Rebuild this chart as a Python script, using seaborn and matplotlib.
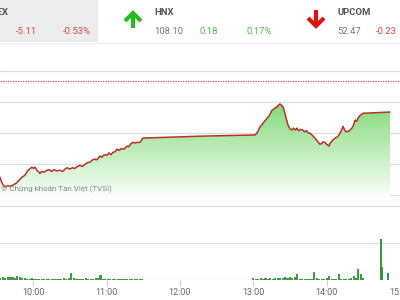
import numpy as np
import matplotlib
matplotlib.use("Agg")
import matplotlib.pyplot as plt
import seaborn as sns
from matplotlib.colors import LinearSegmentedColormap
from matplotlib.lines import Line2D
from matplotlib.patches import Rectangle

# ---------------- data ----------------
# time in minutes after 09:00, index value
price_t = [32.8, 34.5, 36.8, 39, 41, 43.4, 46, 49, 51, 53.2, 55, 57, 58.9, 60.2, 61.4, 63,
           65.5, 67, 69, 71.2, 73, 75, 77, 79, 81.8, 84, 86, 87.6, 90, 92, 94, 96, 98.2,
           100, 102, 104, 106.4, 108, 110, 112, 114.6, 116, 118, 120, 122, 123.5, 125.2,
           127, 128.5, 130, 132, 134, 136.7, 138, 140, 141.6, 143, 145, 147.3, 149.8,
           196.4, 241.4, 243, 245.5, 248, 251.2, 253, 255.3, 257, 258, 259.4, 260.5,
           261.8, 263, 264.3, 265.9, 267, 268.4, 270, 271.6, 273, 274.5, 275.7, 277, 279,
           280.6, 282, 283.5, 285, 286.3, 288, 290.4, 292, 294.5, 296, 297, 298.6, 300,
           301.9, 303, 305.2, 307, 309, 310.9, 312, 313.4, 314.5, 315.8, 318, 320.7, 322,
           323.2, 324.5, 325.6, 327, 329.7, 351.8]
price_v = [947.9, 946.9, 946.3, 946.5, 946.4, 946.6, 946.9, 947.5, 947.9, 948.2, 948.8,
           949.2, 949.5, 949.3, 949.5, 949.0, 948.5, 948.8, 948.7, 949.0, 949.1, 948.8,
           949.1, 948.9, 949.0, 948.8, 949.2, 949.4, 949.2, 949.4, 949.3, 949.6, 949.8,
           949.6, 949.9, 950.2, 950.3, 950.6, 950.8, 950.7, 951.3, 951.1, 951.5, 951.4,
           951.8, 951.5, 951.9, 952.0, 952.4, 952.2, 952.5, 952.4, 952.9, 952.8, 953.3,
           953.5, 953.4, 953.5, 953.5, 954.2, 954.5, 954.7, 955.0, 956.0, 956.6, 957.4,
           957.8, 958.7, 958.9, 959.1, 959.2, 959.5, 959.7, 959.5, 959.2, 958.2, 957.3,
           956.3, 955.7, 955.5, 955.8, 955.5, 955.8, 955.4, 955.6, 955.5, 955.2, 955.4,
           955.0, 955.0, 954.7, 954.2, 953.8, 953.2, 953.3, 953.6, 953.5, 953.2, 952.9,
           953.4, 953.9, 954.2, 954.4, 955.0, 955.4, 956.1, 955.6, 955.2, 955.3, 955.8,
           956.3, 957.1, 956.9, 957.4, 957.8, 958.2, 958.4]
ref_price = 963.4
price_ticks = [945, 950, 955, 960, 965]

vol_am_start, vol_pm_start, vol_step = 33, 240, 2
vol_am = [0.6, 0.8, 0.5, 0.9, 0.7, 0.8, 0.6, 1.2, 0.7, 0.5, 0.6, 0.4, 0.3, 0.5, 0.3, 0.4,
          0.2, 0.3, 0.4, 0.3, 0.2, 0.3, 0.4, 0.3, 0.2, 0.4, 0.5, 0.4, 0.6, 1.9, 0.5, 0.4,
          0.3, 0.4, 0.3, 0.5, 0.3, 0.4, 0.3, 0.5, 0.6, 1.3, 0.4, 0.3, 0.4, 0.2, 0.3, 0.3,
          0.2, 0.3, 0.2, 0.3, 0.2, 0.3, 0.2, 0.3, 0.2, 0.3, 0.2]
vol_pm = [0.5, 0.3, 0.4, 0.5, 0.4, 0.5, 0.4, 0.5, 0.4, 0.5, 0.6, 0.5, 0.6, 0.7, 0.6, 0.7,
          0.6, 0.8, 1.5, 0.4, 0.3, 0.3, 0.4, 0.3, 0.4, 2.2, 0.5, 0.3, 0.4, 0.3, 0.5, 1.0,
          0.3, 0.4, 0.3, 1.6, 0.4, 0.3, 0.4, 0.3, 0.5, 1.2, 0.6, 3.0, 1.5, 0.6]
vol_atc_t = [344.5, 345.5, 350.2]
vol_atc_v = [11.1, 3.6, 2.0]
vol_ticks = [0, 10, 20]

hour_ticks = [60, 120, 180, 240, 300, 360]
hour_labels = ["10:00", "11:00", "12:00", "13:00", "14:00", "15:00"]

hdr_names = ["VNINDEX", "HNX", "UPCOM"]
hdr_values = ["", "108.10", "52.47"]
hdr_change = ["-5.11", "0.18", "-0.23"]
hdr_pct = ["-0.53%", "0.17%", "-0.23%"]

# ---------------- style ----------------
sns.set_theme(style="white")
plt.rcParams['font.family'] = ['Roboto', 'DejaVu Sans']

W, H = 400, 300
fig = plt.figure(figsize=(4, 3), dpi=100)
fig.patch.set_facecolor('white')

def fy(py):
    return 1 - py / H

xlim = (32.8, 360.0)
grid_c = '#dedede'

# price axes (pixel rows 60..200)
axp = fig.add_axes([0, fy(200), 1, (200 - 60) / H])
ybot, ytop = 944.2, 966.8
axp.set_xlim(*xlim)
axp.set_ylim(ybot, ytop)
for yv in price_ticks:
    axp.axhline(yv, color=grid_c, lw=0.9, zorder=0)
axp.axhline(ref_price, color='#cc5566', lw=0.9, ls=(0, (1, 1)), zorder=1)

poly = axp.fill_between(price_t, price_v, ybot, color='none', lw=0)
path = poly.get_paths()[0]
cmap = LinearSegmentedColormap.from_list('g', ['#ffffff', '#82da7a'])
grad = np.linspace(0, 1, 256).reshape(-1, 1)
im = axp.imshow(grad, extent=[xlim[0], price_t[-1], ybot, max(price_v)], origin='lower',
                aspect='auto', cmap=cmap, zorder=2)
im.set_clip_path(path, transform=axp.transData)
axp.set_xlim(*xlim)
axp.set_ylim(ybot, ytop)

sns.lineplot(x=price_t, y=price_v, ax=axp, color='#b8322a', lw=1.1, sort=False,
             estimator=None, zorder=3)
axp.set_axis_off()

# volume axes (pixel rows 200..280)
axv = fig.add_axes([0, fy(280), 1, 80 / H])
am_t = [vol_am_start + vol_step * i for i in range(len(vol_am))]
pm_t = [vol_pm_start + vol_step * i for i in range(len(vol_pm))]
axv.set_xlim(*xlim)
axv.set_ylim(0, 21.6)
for yv in vol_ticks:
    axv.axhline(yv, color=grid_c, lw=0.9, zorder=0)
axv.bar(am_t, vol_am, width=1.7, color='#3f9c3f', lw=0, zorder=2)
axv.bar(pm_t, vol_pm, width=1.7, color='#3f9c3f', lw=0, zorder=2)
axv.bar(vol_atc_t, vol_atc_v, width=1.0, color='#3a963a', lw=0, zorder=2)
for s in axv.spines.values():
    s.set_visible(False)
axv.set_yticks([])
axv.set_xticks(hour_ticks)
axv.set_xticklabels(hour_labels)
axv.tick_params(axis='x', length=4, width=0.8, color='#cfcfcf', pad=2,
                labelsize=6.5, labelcolor='#666666', bottom=True)

# overlay in pixel coordinates for header / decorations
axo = fig.add_axes([0, 0, 1, 1], zorder=10)
axo.set_xlim(0, W)
axo.set_ylim(H, 0)
axo.set_axis_off()
axo.patch.set_alpha(0)
axo.add_patch(Rectangle((0, 0), 98, 42, color='#ececec', lw=0))
axo.plot([0, W], [42.5, 42.5], color='#eeeeee', lw=0.8)

red = '#e04444'
green = '#4cba4c'
gray = '#777777'
dark = '#555555'
fs = 6.8
axo.text(8.5, 12.7, hdr_names[0], ha='right', va='center', fontsize=fs, color=dark, fontweight='bold')
axo.text(36.7, 31.7, hdr_change[0], ha='right', va='center', fontsize=fs, color=red)
axo.text(90.7, 31.7, hdr_pct[0], ha='right', va='center', fontsize=fs, color=red)

axo.text(154.3, 12.7, hdr_names[1], ha='left', va='center', fontsize=fs, color=dark, fontweight='bold')
axo.text(154.3, 31.7, hdr_values[1], ha='left', va='center', fontsize=fs, color=gray)
axo.text(218.3, 31.7, hdr_change[1], ha='right', va='center', fontsize=fs, color=green)
axo.text(271.7, 31.7, hdr_pct[1], ha='right', va='center', fontsize=fs, color=green)

axo.text(337.3, 12.7, hdr_names[2], ha='left', va='center', fontsize=fs, color=dark, fontweight='bold')
axo.text(337.3, 31.7, hdr_values[2], ha='left', va='center', fontsize=fs, color=gray)
axo.text(375.7, 31.7, hdr_change[2], ha='left', va='center', fontsize=fs, color=red)

# arrows
lw_a = 3.0
ag = '#22bb22'
axo.add_line(Line2D([133, 133], [13, 28], color=ag, lw=lw_a, solid_capstyle='butt'))
axo.add_line(Line2D([125, 133, 141], [21, 13, 21], color=ag, lw=lw_a,
                    solid_joinstyle='miter', solid_capstyle='butt'))
ar = '#e31010'
axo.add_line(Line2D([316, 316], [10, 25], color=ar, lw=lw_a, solid_capstyle='butt'))
axo.add_line(Line2D([308, 316, 324], [18, 26, 18], color=ar, lw=lw_a,
                    solid_joinstyle='miter', solid_capstyle='butt'))

axo.text(1, 189.5, "© Chứng khoán Tân Việt (TVSI)", ha='left', va='center',
         fontsize=5.8, color='#8a8a8a')

fig.savefig('out.png', dpi=100)
